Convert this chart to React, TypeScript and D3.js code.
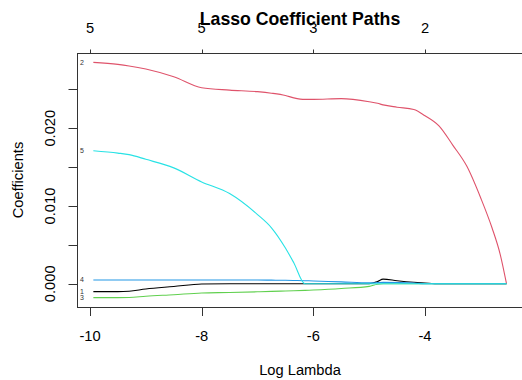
import React from "react";
import * as d3 from "d3";

const logLambda = [-9.94, -9.5, -9.3, -9.0, -8.5, -8.0, -7.5, -7.0, -6.75, -6.5, -6.35, -6.15, -6.0, -5.5, -5.0, -4.85, -4.75, -4.5, -4.2, -4.0, -3.75, -3.5, -3.25, -3.0, -2.8, -2.65, -2.54];

const coef1 = [-0.00101, -0.00101, -0.00095, -0.00067, -0.00035, -0.00003, 0, 0, 0, 0, 0, 0, 0, 0, 0, 0.0003, 0.0006, 0.0004, 0.0002, 0.0001, 0, 0, 0, 0, 0, 0, 0];
const coef2 = [0.02846, 0.0282, 0.028, 0.0276, 0.0266, 0.0252, 0.0249, 0.0247, 0.0245, 0.0242, 0.0239, 0.0237, 0.0237, 0.0238, 0.0234, 0.0232, 0.023, 0.0227, 0.0224, 0.0216, 0.0203, 0.0178, 0.0151, 0.011, 0.0072, 0.0037, 0];
const coef3 = [-0.00178, -0.00178, -0.00176, -0.0016, -0.0014, -0.00118, -0.00112, -0.00103, -0.00098, -0.00093, -0.0009, -0.00085, -0.0008, -0.0006, -0.00033, -0.00005, 0, 0, 0, 0, 0, 0, 0, 0, 0, 0, 0];
const coef4 = [0.00049, 0.00049, 0.00049, 0.00049, 0.00049, 0.00049, 0.00049, 0.00049, 0.00047, 0.00045, 0.00043, 0.0004, 0.00036, 0.00025, 0.00012, 0.00015, 0.00018, 0.00016, 0.0001, 0, 0, 0, 0, 0, 0, 0, 0];
const coef5 = [0.0171, 0.0168, 0.0166, 0.016, 0.0149, 0.0131, 0.0116, 0.0089, 0.0072, 0.0046, 0.0027, 0, 0, 0, 0, 0, 0, 0, 0, 0, 0, 0, 0, 0, 0, 0, 0];

const seriesNames = ["1", "2", "3", "4", "5"];
const seriesColors = ["#000000", "#DF536B", "#61D04F", "#2297E6", "#28E2E5"];

const xTicks = [-10, -8, -6, -4];
const dfLabels = ["5", "5", "3", "2"];
const yTicks = [0, 0.005, 0.01, 0.015, 0.02, 0.025];
const yTickLabels = [0, 0.01, 0.02];

const FONT = "'Liberation Sans', Arial, Helvetica, sans-serif";

export default function App() {
  const xScale = d3.scaleLinear().domain([-10, -4]).range([90, 425]);
  const yScale = d3.scaleLinear().domain([0, 0.02]).range([283.8, 128.2]);
  const box = { left: 77.5, right: 523.5, top: 53.5, bottom: 307.5 };
  const all = [coef1, coef2, coef3, coef4, coef5];
  const line = d3
    .line<number>()
    .x((_, i) => xScale(logLambda[i]))
    .y((d) => yScale(d))
    .curve(d3.curveMonotoneX);

  return (
    <svg
      width={522}
      height={380}
      style={{ position: "absolute", left: 0, top: 0, display: "block", background: "#fff" }}
      fontFamily={FONT}
    >
      <rect x={0} y={0} width={522} height={380} fill="#fff" />
      <defs>
        <clipPath id="plotclip">
          <rect x={box.left} y={box.top} width={box.right - box.left} height={box.bottom - box.top} />
        </clipPath>
      </defs>
      <text x={300} y={25} textAnchor="middle" fontSize={17.7} fontWeight="bold" fill="#000">
        Lasso Coefficient Paths
      </text>
      <g clipPath="url(#plotclip)">
        {all.map((s, k) => (
          <path key={k} d={line(s) || ""} fill="none" stroke={seriesColors[k]} strokeWidth={1.1} />
        ))}
      </g>
      {all.map((s, k) => (
        <text
          key={"l" + k}
          x={xScale(logLambda[0]) - 11.5}
          y={yScale(s[0]) + 2.5}
          fontSize={7}
          textAnchor="middle"
          fill="#333"
        >
          {seriesNames[k]}
        </text>
      ))}
      <rect
        x={box.left}
        y={box.top}
        width={box.right - box.left}
        height={box.bottom - box.top}
        fill="none"
        stroke="#333"
        strokeWidth={1}
      />
      {xTicks.map((t) => (
        <g key={"bx" + t}>
          <line x1={Math.round(xScale(t)) + 0.5} x2={Math.round(xScale(t)) + 0.5} y1={box.bottom} y2={box.bottom + 8.5} stroke="#333" />
          <text x={xScale(t)} y={340.5} textAnchor="middle" fontSize={14.7} fill="#000">
            {String(t)}
          </text>
        </g>
      ))}
      {xTicks.map((t, i) => (
        <g key={"tx" + t}>
          <line x1={Math.round(xScale(t)) + 0.5} x2={Math.round(xScale(t)) + 0.5} y1={box.top} y2={box.top - 4} stroke="#333" />
          <text x={xScale(t)} y={33} textAnchor="middle" fontSize={14.7} fill="#000">
            {dfLabels[i]}
          </text>
        </g>
      ))}
      {yTicks.map((t) => (
        <line key={"yt" + t} x1={box.left - 9} x2={box.left} y1={Math.round(yScale(t)) + 0.5} y2={Math.round(yScale(t)) + 0.5} stroke="#333" />
      ))}
      {yTickLabels.map((t) => (
        <text
          key={"yl" + t}
          transform={`translate(55,${yScale(t)}) rotate(-90)`}
          textAnchor="middle"
          fontSize={14.7}
          fill="#000"
        >
          {d3.format(".3f")(t)}
        </text>
      ))}
      <text x={300} y={375} textAnchor="middle" fontSize={14.7} fill="#000">
        Log Lambda
      </text>
      <text transform={`translate(23,180) rotate(-90)`} textAnchor="middle" fontSize={14.7} fill="#000">
        Coefficients
      </text>
    </svg>
  );
}
